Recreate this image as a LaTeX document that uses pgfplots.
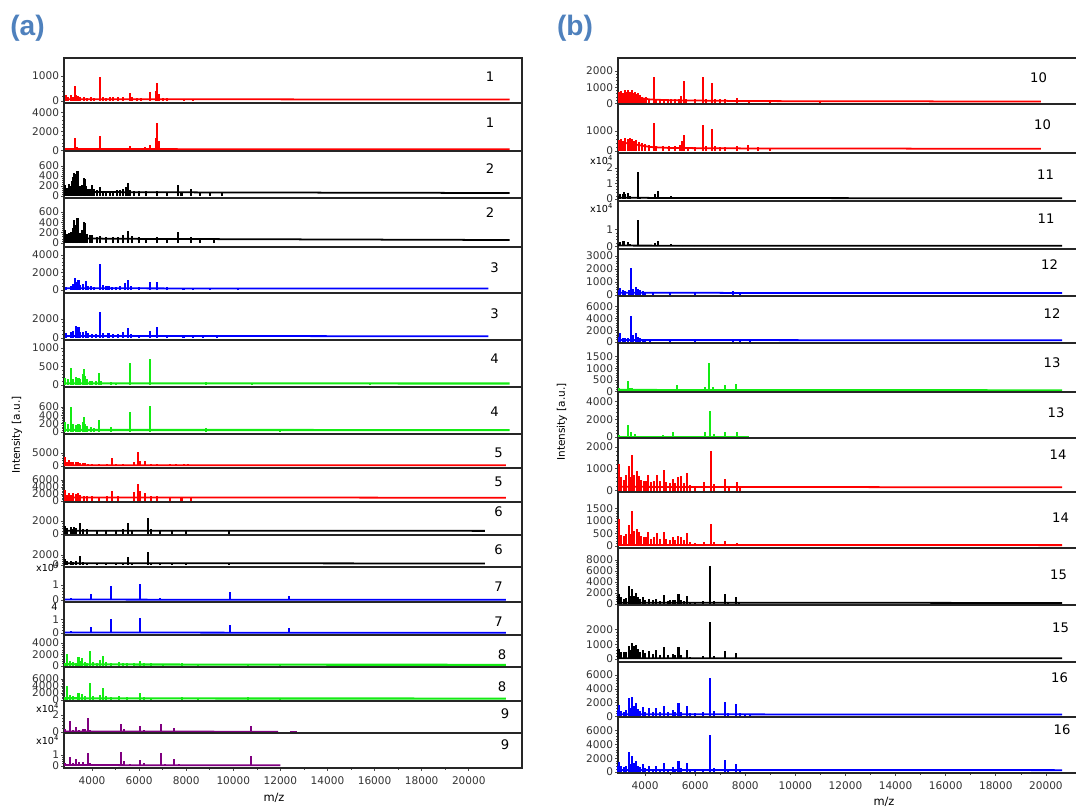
\documentclass[border=0pt]{standalone}
\usepackage{pgfplots}
\pgfplotsset{compat=1.18}
\usepackage{fontspec}
\setmainfont{DejaVu Sans}
\newfontfamily\panelfont{Liberation Sans}
\definecolor{sred}{RGB}{255,0,0}
\definecolor{sgreen}{RGB}{20,235,20}
\definecolor{sblue}{RGB}{0,0,255}
\definecolor{spurple}{RGB}{128,0,128}
\definecolor{panelblue}{RGB}{79,129,189}

\pgfplotsset{
  strip/.style={scale only axis, anchor=north west, clip=false,
    axis line style={line width=0.8pt, black!85},
    tick align=outside, ytick pos=left, xtick pos=bottom,
    major tick length=1.6pt, minor tick length=1pt,
    tick style={line width=0.4pt, black!70},
    minor y tick num=4, xtick=\empty,
    ticklabel style={font=\fontsize{6}{6}\selectfont, text=black!80},
    yticklabel style={inner sep=1pt},
    /pgf/number format/assume math mode=true,
    /pgf/number format/1000 sep={},
    scaled ticks=false},
  sa/.style={strip, xmin=2810, xmax=22260, width=9.16cm},
  sb/.style={strip, xmin=2920, xmax=21360, width=9.24cm},
  bottomx/.style={xtick={4000,6000,...,20000}, minor x tick num=1},
  pk/.style={ycomb, #1, line width=1.15pt},
  bl/.style={#1, line width=1pt},
}
\newcommand{\xten}[1][-0.14cm]{\node[font=\fontsize{5.5}{5.5}\selectfont, anchor=east, inner sep=0.5pt, xshift=-2pt, yshift=#1] at (rel axis cs:0,1) {x10\textsuperscript{4}};}

\begin{document}
\begin{tikzpicture}
\useasboundingbox (0,0) rectangle (21.52,-16.16);

% ---------------- panel (a) ----------------
\begin{axis}[sa, at={(1.28cm,-1.16cm)}, height=0.90cm, ymin=-80, ymax=1720, ytick={0,1000}]
\addplot[bl=sred] coordinates {(2850,70)(21730,60)};
\addplot[pk=sred] coordinates {(2900,250)(3000,150)(3090,240)(3200,180)(3265,600)(3330,250)(3400,200)(3500,160)(3650,150)(3800,130)(3950,160)(4100,140)(4334,950)(4450,170)(4600,140)(4750,150)(4900,160)(5100,150)(5300,170)(5604,310)(5700,150)(5900,120)(6100,110)(6453,350)(6700,400)(6775,730)(6850,300)(7000,120)(7200,100)(7900,80)(8300,80)};
\end{axis}
\begin{axis}[sa, at={(1.28cm,-2.06cm)}, height=0.96cm, ymin=-53, ymax=5000, ytick={0,2000,4000}]
\addplot[bl=sred] coordinates {(2850,150)(21730,130)};
\addplot[pk=sred] coordinates {(2900,300)(3100,250)(3265,1350)(3350,350)(3500,250)(3700,200)(3900,200)(4100,250)(4334,1530)(4450,250)(4700,220)(4900,250)(5100,250)(5300,300)(5604,470)(5800,250)(6234,400)(6453,580)(6700,1300)(6775,2930)(6850,1000)(7184,300)(7300,200)(7900,180)};
\end{axis}
\begin{axis}[sa, at={(1.28cm,-3.02cm)}, height=0.94cm, ymin=-40, ymax=900, ytick={0,200,400,600}]
\addplot[bl=black] coordinates {(2850,86)(6000,75)(21730,60)};
\addplot[pk=black] coordinates {(2870,220)(2950,160)(3020,250)(3090,200)(3150,300)(3200,380)(3235,466)(3270,300)(3310,450)(3350,380)(3383,506)(3420,250)(3480,200)(3520,150)(3580,220)(3646,354)(3690,330)(3719,350)(3760,200)(3820,150)(3900,140)(4012,220)(4100,140)(4200,120)(4334,190)(4450,110)(4600,100)(4750,110)(4900,110)(5050,120)(5200,130)(5300,150)(5430,190)(5532,266)(5600,130)(5800,110)(6000,100)(6300,100)(6775,100)(7200,80)(7668,220)(7800,90)(8207,140)(8600,75)(9000,75)(9500,70)};
\end{axis}
\begin{axis}[sa, at={(1.28cm,-3.96cm)}, height=0.98cm, ymin=-78, ymax=874, ytick={0,200,400,600}]
\addplot[bl=black] coordinates {(2850,90)(6000,80)(21730,58)};
\addplot[pk=black] coordinates {(2870,250)(2950,180)(3020,200)(3100,220)(3200,300)(3235,446)(3300,350)(3383,480)(3420,300)(3500,200)(3580,250)(3646,414)(3719,380)(3800,180)(3900,150)(4012,150)(4200,120)(4334,130)(4600,110)(4900,110)(5100,120)(5300,150)(5532,233)(5700,130)(6000,110)(6300,100)(6775,110)(7200,90)(7668,220)(8207,120)(8600,80)(9200,75)};
\end{axis}
\begin{axis}[sa, at={(1.28cm,-4.94cm)}, height=0.92cm, ymin=-343, ymax=4914, ytick={0,2000,4000}]
\addplot[bl=sblue] coordinates {(2850,190)(20830,170)};
\addplot[pk=sblue] coordinates {(2900,400)(3090,500)(3200,700)(3265,1340)(3350,900)(3426,1200)(3500,600)(3600,700)(3748,1050)(3850,500)(3950,450)(4100,400)(4334,2940)(4450,600)(4600,500)(4700,500)(4850,400)(5000,350)(5200,450)(5400,800)(5532,1200)(5650,450)(6000,300)(6453,880)(6775,950)(7184,300)(7885,250)(8309,250)(9000,210)(10200,210)};
\end{axis}
\begin{axis}[sa, at={(1.28cm,-5.86cm)}, height=0.94cm, ymin=-210, ymax=4737, ytick={0,2000}]
\addplot[bl=sblue] coordinates {(2850,210)(20830,190)};
\addplot[pk=sblue] coordinates {(2900,500)(3090,600)(3200,700)(3310,1300)(3426,1150)(3500,600)(3600,650)(3748,700)(3850,500)(4000,450)(4150,400)(4334,2770)(4450,550)(4700,500)(4900,450)(5100,450)(5300,600)(5532,1010)(5650,450)(6000,300)(6453,760)(6775,1120)(7184,350)(7885,280)(8309,300)(8700,250)(9300,230)};
\end{axis}
\begin{axis}[sa, at={(1.28cm,-6.80cm)}, height=0.94cm, ymin=-55, ymax=1216, ytick={0,500,1000}]
\addplot[bl=sgreen, line width=1.2pt] coordinates {(2850,45)(21730,40)};
\addplot[pk=sgreen] coordinates {(2870,200)(3000,150)(3120,470)(3200,150)(3310,210)(3426,180)(3500,150)(3600,300)(3646,440)(3720,250)(3800,150)(3900,120)(4012,120)(4150,110)(4305,330)(4400,100)(4814,80)(5000,60)(5604,600)(6453,695)(8836,80)(10800,55)(15800,55)};
\end{axis}
\begin{axis}[sa, at={(1.28cm,-7.74cm)}, height=0.94cm, ymin=-48, ymax=1085, ytick={0,200,400,600}]
\addplot[bl=sgreen, line width=1.2pt] coordinates {(2850,50)(21730,45)};
\addplot[pk=sgreen] coordinates {(2870,250)(3000,200)(3120,595)(3200,200)(3310,170)(3426,200)(3500,180)(3600,250)(3646,353)(3720,200)(3800,150)(3950,120)(4100,100)(4305,290)(4814,120)(5604,475)(6453,627)(8836,90)(12000,60)};
\end{axis}
\begin{axis}[sa, at={(1.28cm,-8.68cm)}, height=0.68cm, ymin=-770, ymax=12300, ytick={0,5000}]
\addplot[bl=sred] coordinates {(2850,270)(21580,250)};
\addplot[pk=sred] coordinates {(2870,3580)(2950,1500)(3018,2300)(3100,1400)(3200,1650)(3300,1500)(3400,1650)(3500,1300)(3600,1200)(3700,1000)(3850,800)(4000,700)(4300,600)(4624,900)(4843,2950)(5000,700)(5300,600)(5800,1500)(5940,5500)(6050,2000)(6234,1900)(6500,700)(6775,900)(7300,600)(7549,700)(7900,600)(8062,700)(8500,400)};
\end{axis}
\begin{axis}[sa, at={(1.28cm,-9.36cm)}, height=0.68cm, ymin=-285, ymax=9430, ytick={0,2000,4000,6000}]
\addplot[bl=sred] coordinates {(2850,1000)(21580,950)};
\addplot[pk=sred] coordinates {(2870,3150)(2950,1800)(3018,2400)(3100,1800)(3200,2400)(3300,2000)(3400,2200)(3500,1700)(3650,1500)(3800,1400)(4000,1300)(4300,1200)(4624,1500)(4843,2950)(5100,1300)(5800,2500)(5940,4860)(6050,2800)(6234,2400)(6500,1300)(6775,1400)(7300,1200)(7800,1200)(8200,1150)};
\end{axis}
\begin{axis}[sa, at={(1.28cm,-10.04cm)}, height=0.66cm, ymin=-154, ymax=4920, ytick={0,2000}]
\addplot[bl=black] coordinates {(2850,500)(20680,480)};
\addplot[pk=black] coordinates {(2870,1280)(2950,900)(3090,1000)(3200,800)(3235,1000)(3300,900)(3485,1650)(3600,800)(3800,700)(4200,650)(4600,650)(5000,650)(5300,700)(5532,1650)(5700,600)(6380,2400)(6500,700)(6900,600)(7400,600)(8000,550)(9800,550)};
\end{axis}
\begin{axis}[sa, at={(1.28cm,-10.70cm)}, height=0.64cm, ymin=-400, ymax=6000, ytick={0,2000}]
\addplot[bl=black] coordinates {(2850,340)(20680,320)};
\addplot[pk=black] coordinates {(2870,1200)(2950,800)(3090,900)(3200,700)(3300,800)(3485,1800)(3600,600)(3800,500)(4200,450)(4600,450)(5000,450)(5300,500)(5532,1540)(5700,450)(6380,2660)(6500,500)(6900,450)(7400,400)(8000,400)(9800,450)};
\end{axis}
\begin{axis}[sa, at={(1.28cm,-11.34cm)}, height=0.70cm, ymin=-0.13, ymax=2.2, ytick={0,1}]
\addplot[bl=sblue] coordinates {(2850,0.03)(21580,0.02)};
\addplot[pk=sblue] coordinates {(2950,0.1)(3090,0.15)(3300,0.08)(3500,0.1)(3969,0.4)(4300,0.06)(4800,0.95)(5400,0.06)(6058,1.05)(6200,0.08)(6890,0.12)(7500,0.08)(9858,0.55)(12347,0.29)};
\xten[0cm]
\end{axis}
\begin{axis}[sa, at={(1.28cm,-12.04cm)}, height=0.66cm, ymin=-0.15, ymax=2.3, ytick={0,1}]
\addplot[bl=sblue] coordinates {(2850,0.03)(21580,0.02)};
\addplot[pk=sblue] coordinates {(2950,0.1)(3090,0.15)(3300,0.08)(3969,0.47)(4800,1.04)(6058,1.08)(6890,0.1)(7500,0.06)(9858,0.6)(12347,0.35)};
\node[font=\fontsize{5.5}{5.5}\selectfont, anchor=east, inner sep=0.5pt, xshift=-3pt, yshift=-0.1cm] at (rel axis cs:0,1) {4};
\end{axis}
\begin{axis}[sa, at={(1.28cm,-12.70cm)}, height=0.64cm, ymin=-174, ymax=5390, ytick={0,2000,4000}]
\addplot[bl=sgreen, line width=1.2pt] coordinates {(2850,300)(8000,250)(21580,200)};
\addplot[pk=sgreen] coordinates {(2870,600)(2943,2090)(3050,800)(3200,700)(3300,600)(3426,1510)(3500,800)(3574,1400)(3700,700)(3800,600)(3923,2610)(4050,700)(4200,600)(4334,1000)(4478,1740)(4600,700)(4800,500)(5137,700)(5300,500)(5500,450)(5800,500)(6058,870)(6200,600)(6500,450)(7000,400)(7812,450)(8500,350)(10618,350)(12000,300)};
\end{axis}
\begin{axis}[sa, at={(1.28cm,-13.34cm)}, height=0.68cm, ymin=-285, ymax=9430, ytick={0,2000,4000,6000}]
\addplot[bl=sgreen, line width=1.2pt] coordinates {(2850,490)(8000,450)(21580,400)};
\addplot[pk=sgreen] coordinates {(2870,1000)(2943,4090)(3050,1300)(3200,1200)(3426,2000)(3574,1800)(3700,1100)(3923,4770)(4050,1100)(4334,1500)(4478,3340)(4600,1100)(4800,900)(5137,1100)(5500,800)(6058,2090)(6200,1000)(6500,700)(7812,950)(8500,600)(10618,950)(12000,500)};
\end{axis}
\begin{axis}[sa, at={(1.28cm,-14.02cm)}, height=0.64cm, ymin=-0.12, ymax=3.65, ytick={0,2}]
\addplot[bl=spurple] coordinates {(2850,0.05)(11900,0.04)};
\addplot[bl=spurple] coordinates {(12400,0.04)(12700,0.04)};
\addplot[pk=spurple] coordinates {(2870,0.3)(3065,1.3)(3200,0.2)(3320,0.55)(3450,0.25)(3604,0.35)(3700,0.3)(3816,1.6)(3900,0.2)(4300,0.1)(4800,0.1)(5230,0.95)(5350,0.4)(5600,0.15)(6037,0.7)(6200,0.2)(6600,0.15)(6916,0.95)(7100,0.15)(7481,0.45)(7700,0.12)(8500,0.08)(10737,0.75)(11000,0.1)};
\xten
\end{axis}
\begin{axis}[sa, bottomx, at={(1.28cm,-14.66cm)}, height=0.70cm, ymin=-0.18, ymax=3.0, ytick={0,1}]
\addplot[bl=spurple] coordinates {(2850,0.09)(12000,0.06)};
\addplot[pk=spurple] coordinates {(2870,0.3)(3065,0.85)(3200,0.3)(3320,0.6)(3450,0.35)(3604,0.4)(3816,1.2)(3900,0.3)(4300,0.15)(5230,1.3)(5350,0.5)(5600,0.2)(6037,0.55)(6200,0.25)(6916,1.15)(7100,0.2)(7481,0.64)(7700,0.15)(10737,0.94)(11000,0.12)};
\xten
\end{axis}

% ---------------- panel (b) ----------------
\begin{axis}[sb, at={(12.36cm,-1.16cm)}, height=0.92cm, ymin=-31, ymax=2810, ytick={0,1000,2000}]
\addplot[bl=sred] coordinates {(2930,500)(3500,400)(4200,250)(5000,200)(8000,150)(19800,120)};
\addplot[pk=sred] coordinates {(2950,700)(3000,525)(3050,750)(3130,650)(3200,830)(3260,700)(3330,820)(3400,720)(3467,830)(3530,650)(3600,700)(3660,600)(3733,650)(3800,500)(3866,420)(3950,350)(4040,380)(4150,300)(4357,1620)(4450,300)(4600,280)(4750,260)(4900,300)(5050,280)(5200,260)(5350,300)(5450,450)(5539,1390)(5650,250)(6000,250)(6329,1650)(6450,300)(6657,1280)(6800,300)(7000,250)(7175,260)(7655,360)(8130,240)(9000,170)(11000,150)};
\end{axis}
\begin{axis}[sb, at={(12.36cm,-2.08cm)}, height=0.98cm, ymin=-100, ymax=2350, ytick={0,1000}]
\addplot[bl=sred] coordinates {(2930,450)(3500,350)(4200,200)(5000,150)(8000,130)(19800,110)};
\addplot[pk=sred] coordinates {(2950,550)(3050,600)(3130,500)(3200,635)(3300,600)(3400,650)(3467,620)(3550,500)(3650,550)(3750,450)(3866,400)(4000,350)(4150,300)(4357,1385)(4450,250)(4700,250)(4950,250)(5200,250)(5400,300)(5460,500)(5539,800)(5700,220)(6000,220)(6329,1300)(6450,250)(6660,1085)(6800,250)(7000,200)(7175,220)(7655,260)(8120,300)(8500,180)(9000,150)};
\end{axis}
\begin{axis}[sb, at={(12.36cm,-3.06cm)}, height=0.96cm, ymin=-0.13, ymax=2.97, ytick={0,1,2}]
\addplot[bl=black] coordinates {(2930,0.08)(6000,0.06)(20650,0.05)};
\addplot[pk=black] coordinates {(2950,0.2)(3012,0.3)(3100,0.35)(3152,0.45)(3200,0.3)(3327,0.4)(3400,0.2)(3722,1.77)(3800,0.15)(4400,0.3)(4513,0.52)(4600,0.15)(5050,0.19)(5500,0.1)(6000,0.08)(6500,0.08)};
\xten
\end{axis}
\begin{axis}[sb, at={(12.36cm,-4.02cm)}, height=0.96cm, ymin=-0.15, ymax=2.68, ytick={0,1}]
\addplot[bl=black] coordinates {(2930,0.05)(20650,0.04)};
\addplot[pk=black] coordinates {(2950,0.15)(3012,0.25)(3100,0.3)(3152,0.3)(3327,0.28)(3400,0.15)(3722,1.56)(3800,0.1)(4400,0.2)(4513,0.32)(4600,0.1)(5050,0.12)(5500,0.07)(6000,0.07)(6500,0.07)(7000,0.06)};
\xten
\end{axis}
\begin{axis}[sb, at={(12.36cm,-4.98cm)}, height=0.94cm, ymin=-77, ymax=3540, ytick={0,1000,2000,3000}]
\addplot[bl=sblue] coordinates {(2930,180)(8000,160)(20650,150)};
\addplot[pk=sblue] coordinates {(2950,400)(3012,515)(3100,350)(3200,300)(3350,350)(3423,2050)(3500,500)(3630,590)(3700,450)(3800,350)(3902,330)(4000,250)(4300,220)(5000,200)(6000,190)(7491,300)(7800,180)};
\end{axis}
\begin{axis}[sb, at={(12.36cm,-5.92cm)}, height=0.94cm, ymin=-170, ymax=7800, ytick={0,2000,4000,6000}]
\addplot[bl=sblue] coordinates {(2930,340)(8000,320)(20650,300)};
\addplot[pk=sblue] coordinates {(2950,900)(3012,1470)(3100,700)(3200,600)(3300,700)(3423,4400)(3500,1200)(3630,1500)(3700,900)(3800,700)(3902,500)(4000,450)(4200,400)(5000,380)(6000,380)(7491,390)(7800,350)(8200,340)};
\end{axis}
\begin{axis}[sb, at={(12.36cm,-6.86cm)}, height=0.98cm, ymin=-22, ymax=2090, ytick={0,500,1000,1500}]
\addplot[bl=sgreen, line width=1.2pt] coordinates {(2930,65)(8000,55)(20650,50)};
\addplot[pk=sgreen] coordinates {(2950,150)(3050,120)(3327,450)(3400,150)(3491,170)(3600,120)(4000,90)(4500,90)(4900,100)(5267,270)(5500,100)(6000,100)(6400,200)(6561,1240)(6700,200)(7175,270)(7627,320)(7800,100)(8000,80)};
\end{axis}
\begin{axis}[sb, at={(12.36cm,-7.84cm)}, height=0.92cm, ymin=-110, ymax=5110, ytick={0,2000,4000}]
\addplot[bl=sgreen, line width=1.2pt] coordinates {(2930,50)(8100,50)};
\addplot[pk=sgreen] coordinates {(2950,200)(3050,150)(3332,1330)(3450,520)(3600,300)(3800,150)(4200,150)(4700,200)(5100,520)(5400,150)(5700,150)(6400,600)(6592,3000)(6750,400)(7191,520)(7658,520)(7900,150)(8100,100)};
\end{axis}
\begin{axis}[sb, at={(12.36cm,-8.76cm)}, height=1.08cm, ymin=-69, ymax=2420, ytick={0,1000,2000}]
\addplot[bl=sred] coordinates {(2930,170)(8000,160)(20650,150)};
\addplot[pk=sred] coordinates {(2972,1220)(3050,600)(3150,500)(3250,700)(3359,1140)(3420,600)(3491,1650)(3560,700)(3666,910)(3760,680)(3850,500)(3950,450)(4050,450)(4130,720)(4250,400)(4350,450)(4465,720)(4600,450)(4756,940)(4850,400)(5000,350)(5103,530)(5200,350)(5327,600)(5423,650)(5550,350)(5662,790)(5800,250)(6000,220)(6353,370)(6630,1800)(6750,300)(7191,550)(7350,220)(7658,370)(7800,200)};
\end{axis}
\begin{axis}[sb, at={(12.36cm,-9.84cm)}, height=1.12cm, ymin=-80, ymax=2160, ytick={0,500,1000,1500}]
\addplot[bl=sred] coordinates {(2930,40)(20650,35)};
\addplot[pk=sred] coordinates {(2972,1070)(3050,440)(3150,400)(3250,500)(3359,840)(3420,500)(3491,1410)(3560,600)(3666,700)(3760,570)(3850,400)(3950,350)(4050,350)(4130,570)(4250,300)(4350,350)(4465,530)(4600,300)(4756,570)(4850,300)(5000,250)(5103,370)(5200,250)(5327,410)(5423,350)(5550,250)(5662,530)(5800,150)(6000,120)(6353,150)(6630,900)(6750,150)(7191,210)(7658,110)};
\end{axis}
\begin{axis}[sb, at={(12.36cm,-10.96cm)}, height=1.14cm, ymin=-180, ymax=10180, ytick={0,2000,4000,6000,8000}]
\addplot[bl=black] coordinates {(2930,240)(8000,220)(20650,200)};
\addplot[pk=black] coordinates {(2940,1500)(2972,1760)(3050,1200)(3150,1000)(3250,1100)(3355,3270)(3420,1400)(3491,2670)(3560,1500)(3627,1950)(3700,1300)(3800,900)(3902,1330)(4000,800)(4146,1000)(4300,700)(4445,1000)(4600,600)(4748,1640)(4900,600)(5000,700)(5100,800)(5200,700)(5335,1760)(5450,800)(5550,600)(5675,1500)(5800,400)(6000,350)(6329,600)(6604,6960)(6750,600)(7175,1760)(7300,400)(7627,1330)(7750,300)};
\end{axis}
\begin{axis}[sb, at={(12.36cm,-12.10cm)}, height=1.14cm, ymin=-204, ymax=3670, ytick={0,1000,2000}]
\addplot[bl=black] coordinates {(2930,50)(20650,45)};
\addplot[pk=black] coordinates {(2940,700)(2972,600)(3050,500)(3150,450)(3250,500)(3355,880)(3420,600)(3491,1110)(3560,900)(3627,950)(3700,700)(3800,450)(3902,600)(4000,400)(4146,540)(4300,350)(4445,600)(4600,300)(4748,840)(4900,300)(5100,360)(5200,300)(5335,840)(5450,300)(5675,610)(5800,150)(6000,100)(6329,200)(6604,2500)(6750,200)(7175,540)(7627,390)};
\end{axis}
\begin{axis}[sb, at={(12.36cm,-13.24cm)}, height=1.10cm, ymin=-72, ymax=7900, ytick={0,2000,4000,6000}]
\addplot[bl=sblue] coordinates {(2930,320)(8300,310)(20650,290)};
\addplot[pk=sblue] coordinates {(2940,1000)(2972,1670)(3050,800)(3150,700)(3250,900)(3355,2730)(3420,1200)(3491,2780)(3560,1500)(3627,2030)(3700,1100)(3800,800)(3902,1420)(4000,700)(4146,1200)(4300,600)(4445,1200)(4600,600)(4748,1570)(4900,600)(5100,940)(5200,600)(5335,2030)(5450,700)(5675,1520)(5800,500)(6000,450)(6329,600)(6604,5540)(6750,800)(7175,2060)(7300,500)(7627,1810)(7800,500)(8000,400)(8200,380)};
\end{axis}
\begin{axis}[sb, bottomx, at={(12.36cm,-14.34cm)}, height=1.12cm, ymin=-145, ymax=7970, ytick={0,2000,4000,6000}]
\addplot[bl=sblue] coordinates {(2930,290)(20650,270)};
\addplot[pk=sblue] coordinates {(2940,900)(2972,1400)(3050,800)(3150,700)(3250,800)(3355,2940)(3420,1200)(3491,2360)(3560,1300)(3627,1640)(3700,900)(3800,700)(3902,1100)(4000,600)(4146,900)(4300,500)(4445,900)(4600,500)(4748,1260)(4900,500)(5100,780)(5200,500)(5335,1640)(5450,600)(5675,1260)(5800,400)(6000,350)(6329,500)(6604,5360)(6750,600)(7175,1740)(7300,400)(7627,1120)(7800,350)};
\end{axis}

% thicker separators seen in the reference
\draw[line width=1.3pt, black!85] (1.28,-8.68) -- (10.44,-8.68);
\draw[line width=1.3pt, black!85] (12.36,-8.76) -- (21.6,-8.76);

% ---------------- labels ----------------
\begin{scope}[every node/.style={font=\fontsize{7.5}{7.5}\selectfont}]
\node at (9.80,-1.54) {1};   \node at (9.80,-2.46) {1};
\node at (9.80,-3.38) {2};   \node at (9.80,-4.26) {2};
\node at (9.89,-5.36) {3};   \node at (9.89,-6.28) {3};
\node at (9.89,-7.18) {4};   \node at (9.89,-8.24) {4};
\node at (9.97,-9.06) {5};   \node at (9.97,-9.64) {5};
\node at (9.97,-10.24) {6};  \node at (9.97,-11.00) {6};
\node at (9.97,-11.74) {7};  \node at (9.97,-12.44) {7};
\node at (10.04,-13.10) {8}; \node at (10.04,-13.74) {8};
\node at (10.10,-14.28) {9}; \node at (10.10,-14.90) {9};
\node at (20.77,-1.56) {10}; \node at (20.85,-2.50) {10};
\node at (20.91,-3.50) {11}; \node at (20.92,-4.38) {11};
\node at (20.99,-5.30) {12}; \node at (21.04,-6.28) {12};
\node at (21.04,-7.26) {13}; \node at (21.12,-8.26) {13};
\node at (21.16,-9.10) {14}; \node at (21.21,-10.36) {14};
\node at (21.17,-11.50) {15}; \node at (21.21,-12.56) {15};
\node at (21.19,-13.56) {16}; \node at (21.24,-14.60) {16};
\end{scope}
\node[rotate=90, font=\fontsize{6}{6}\selectfont] at (0.34,-8.70) {Intensity [a.u.]};
\node[rotate=90, font=\fontsize{6}{6}\selectfont] at (11.24,-8.44) {Intensity [a.u.]};
\node[font=\fontsize{6.5}{6.5}\selectfont] at (5.48,-15.96) {m/z};
\node[font=\fontsize{6.5}{6.5}\selectfont] at (17.68,-16.04) {m/z};
\node[font=\panelfont\bfseries\fontsize{16}{16}\selectfont, text=panelblue] at (0.55,-0.57) {(a)};
\node[font=\panelfont\bfseries\fontsize{16}{16}\selectfont, text=panelblue] at (11.50,-0.57) {(b)};
\end{tikzpicture}
\end{document}
